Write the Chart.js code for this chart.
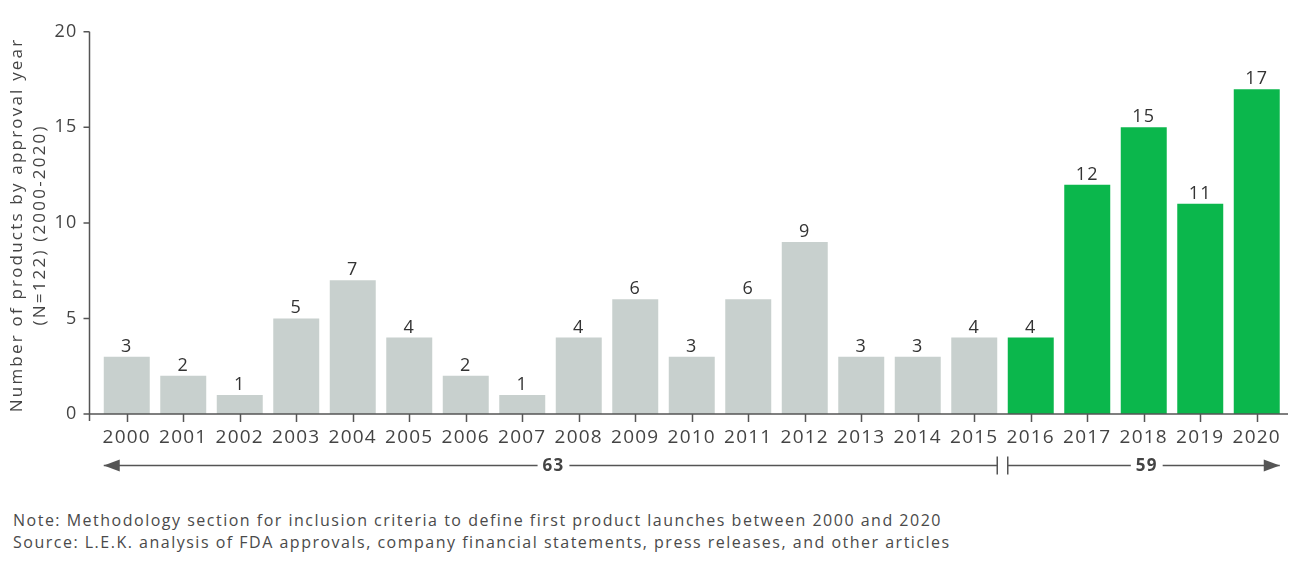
<!DOCTYPE html>
<html>
<head>
<meta charset="utf-8">
<script src="https://cdn.jsdelivr.net/npm/chart.js@4.4.1/dist/chart.umd.min.js"></script>
<style>
  body { margin: 0; background: #fff; font-family: 'Open Sans', sans-serif; }
  #wrap { position: relative; width: 1300px; height: 568px; }
  #wrap canvas { position: absolute; left: 0; top: 0; }
  .note { position: absolute; left: 13px; font-size: 16px; letter-spacing: 1.5px; color: #4a4a4a; white-space: nowrap; }
</style>
</head>
<body>
<div id="wrap">
  <canvas id="approvals_chart" width="1300" height="500"></canvas>
  <div class="note" style="top:509px">Note: Methodology section for inclusion criteria to define first product launches between 2000 and 2020</div>
  <div class="note" style="top:531px">Source: L.E.K. analysis of FDA approvals, company financial statements, press releases, and other articles</div>
</div>
<script>
const years = ['2000', '2001', '2002', '2003', '2004', '2005', '2006', '2007', '2008', '2009', '2010',
               '2011', '2012', '2013', '2014', '2015', '2016', '2017', '2018', '2019', '2020'];
const products = [3, 2, 1, 5, 7, 4, 2, 1, 4, 6, 3, 6, 9, 3, 3, 4, 4, 12, 15, 11, 17];
const yTicks = [0, 5, 10, 15, 20];
const firstRecentYear = '2016';
const yTitle = ['Number of products by approval year', '(N=122) (2000-2020)'];

const grey = '#c8d0ce';
const green = '#0bb74c';
const axisColor = '#555';
const textColor = '#444';
const font = "'Open Sans', sans-serif";

const split = years.indexOf(firstRecentYear);
const barColors = years.map((y, i) => i < split ? grey : green);
const sum = arr => arr.reduce((a, b) => a + b, 0);
const groupTotals = [sum(products.slice(0, split)), sum(products.slice(split))];

const chart = document.getElementById('approvals_chart');

// the reference font is wider than Open Sans, loosen the tracking a bit
const spacing = {
    id: 'spacing',
    beforeLayout(c) { c.ctx.letterSpacing = '1.2px'; },
    beforeDraw(c) { c.ctx.letterSpacing = '1.2px'; }
};

// axis lines, ticks, value labels, y title and the period arrows
const extras = {
    id: 'extras',
    afterDatasetsDraw(c) {
        const ctx = c.ctx;
        const bars = c.getDatasetMeta(0).data;
        ctx.save();
        ctx.fillStyle = '#333';
        ctx.font = '18px ' + font;
        ctx.textAlign = 'center';
        ctx.textBaseline = 'alphabetic';
        bars.forEach((b, i) => ctx.fillText(products[i], b.x, b.y - 5));
        ctx.restore();
    },
    afterDraw(c) {
        const ctx = c.ctx;
        const x = c.scales.x, y = c.scales.y;
        const area = c.chartArea;
        const x0 = Math.round(area.left - 10) + 0.5;
        const x1 = area.right + 3;
        const y0 = y.getPixelForValue(0);
        ctx.save();
        ctx.strokeStyle = axisColor;
        ctx.lineWidth = 1.5;
        ctx.beginPath();
        ctx.moveTo(x0, y.getPixelForValue(20));
        ctx.lineTo(x0, y0 + 7);
        ctx.moveTo(x0, y0);
        ctx.lineTo(x1, y0);
        yTicks.forEach(v => {
            const py = y.getPixelForValue(v);
            ctx.moveTo(x0 - 6, py);
            ctx.lineTo(x0, py);
        });
        years.forEach((yr, i) => {
            const px = Math.round(x.getPixelForValue(i)) + 0.5;
            ctx.moveTo(px, y0);
            ctx.lineTo(px, y0 + 8);
        });
        ctx.stroke();

        // y axis title
        ctx.fillStyle = textColor;
        ctx.font = '17px ' + font;
        ctx.letterSpacing = '2.2px';
        ctx.textAlign = 'center';
        ctx.textBaseline = 'middle';
        ctx.save();
        ctx.translate(17, (area.top + area.bottom) / 2 + 2);
        ctx.rotate(-Math.PI / 2);
        yTitle.forEach((t, i) => ctx.fillText(t, 0, i * 23));
        ctx.restore();
        ctx.letterSpacing = '1.2px';

        // period arrows
        const bars = c.getDatasetMeta(0).data;
        const hw = bars[0].width / 2;
        const ay = 465.5;
        const segs = [
            [bars[0].x - hw, bars[split - 1].x + hw, 'left'],
            [bars[split].x - hw, bars[bars.length - 1].x + hw, 'right']
        ];
        ctx.font = 'bold 17px ' + font;
        segs.forEach((s, k) => {
            const [a, b, dir] = s;
            const label = String(groupTotals[k]);
            const mid = (a + b) / 2 + 3;
            const gap = ctx.measureText(label).width / 2 + 5;
            ctx.beginPath();
            ctx.moveTo(a, ay);
            ctx.lineTo(mid - gap, ay);
            ctx.moveTo(mid + gap, ay);
            ctx.lineTo(b, ay);
            const tickX = dir === 'left' ? b : a;
            ctx.moveTo(tickX, ay - 9);
            ctx.lineTo(tickX, ay + 9);
            ctx.stroke();
            const tip = dir === 'left' ? a : b;
            const sgn = dir === 'left' ? 1 : -1;
            ctx.fillStyle = axisColor;
            ctx.beginPath();
            ctx.moveTo(tip, ay);
            ctx.lineTo(tip + sgn * 16, ay - 6);
            ctx.lineTo(tip + sgn * 16, ay + 6);
            ctx.closePath();
            ctx.fill();
            ctx.fillStyle = textColor;
            ctx.fillText(label, mid, ay + 1);
        });
        ctx.restore();
    }
};

new Chart(chart, {
    type: 'bar',
    data: {
        labels: years,
        datasets: [{
            label: 'Number of products',
            data: products,
            backgroundColor: barColors,
            borderWidth: 0,
            categoryPercentage: 1,
            barPercentage: 0.814
        }]
    },
    options: {
        responsive: false,
        animation: false,
        layout: { padding: { top: 30, right: 15, left: 0, bottom: 0 } },
        plugins: { legend: { display: false }, tooltip: { enabled: false } },
        scales: {
            x: {
                grid: { display: false, drawTicks: false },
                border: { display: false },
                ticks: { color: textColor, font: { family: font, size: 19 }, padding: 12, maxRotation: 0, autoSkip: false },
                afterFit(scale) { scale.height = 86; }
            },
            y: {
                min: 0,
                max: 20,
                grid: { display: false, drawTicks: false },
                border: { display: false },
                ticks: { stepSize: 5, color: textColor, font: { family: font, size: 18 }, padding: 21 },
                afterFit(scale) { scale.width = 98.5; }
            }
        }
    },
    plugins: [spacing, extras]
});
</script>
</body>
</html>
